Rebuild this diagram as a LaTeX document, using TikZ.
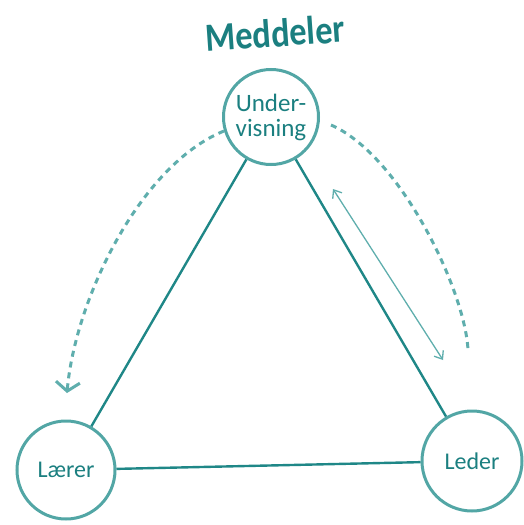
\documentclass[tikz,border=0pt]{standalone}
\usepackage{fontspec}
\setmainfont{Carlito}
\usetikzlibrary{arrows.meta}
\definecolor{tealdark}{HTML}{1B7F80}
\definecolor{tealline}{HTML}{1F8787}
\definecolor{tealring}{HTML}{52A6A5}
\definecolor{teallight}{HTML}{5FAEAD}
\tikzset{
  role/.style={circle, draw=tealring, line width=3pt, minimum size=#1,
    inner sep=0pt, text=tealdark, font=\fontsize{24}{28}\selectfont, align=center},
  edge/.style={draw=tealline, line width=2.4pt},
  flow/.style={draw=teallight, line width=3pt, dash pattern=on 6pt off 5pt},
  twoway/.style={draw=teallight, line width=1.3pt,
    {Straight Barb[length=7pt,width=11pt]}-{Straight Barb[length=7pt,width=11pt]}},
  title/.style={text=tealdark, font=\bfseries\fontsize{40}{44}\selectfont}
}
\begin{document}
\begin{tikzpicture}[x=1pt,y=-1pt]
  \useasboundingbox (0,0) rectangle (524,525);

  % heading
  \node[title, rotate=4, xscale=0.86] (head) at (275,33) {Meddeler};

  % the three roles
  \node[role=95pt] (und) at (271,117)
    {\fontsize{25}{30}\selectfont Under-\\[-3pt]\fontsize{25}{30}\selectfont visning};
  \node[role=98pt] (laer) at (66,470) {Lærer};
  \node[role=100pt] (led) at (472,461) {Leder};

  % triangle
  \draw[edge] (und) -- (laer);
  \draw[edge] (und) -- (led);
  \draw[edge] (laer) -- (led);

  % dashed arcs
  \coordinate (lstart) at (224,131);
  \coordinate (lend) at (67,393);
  \coordinate (rstart) at (331,125);
  \coordinate (rend) at (468,350);
  \draw[flow, -{Straight Barb[length=9pt,width=24pt]}]
    (lstart) .. controls (140,165) and (75,300) .. (lend);
  \draw[flow] (rstart) .. controls (400,155) and (465,290) .. (rend);

  % thin two-way arrow
  \coordinate (tA) at (333,189);
  \coordinate (tB) at (443,360);
  \draw[twoway] (tA) -- (tB);
\end{tikzpicture}
\end{document}
